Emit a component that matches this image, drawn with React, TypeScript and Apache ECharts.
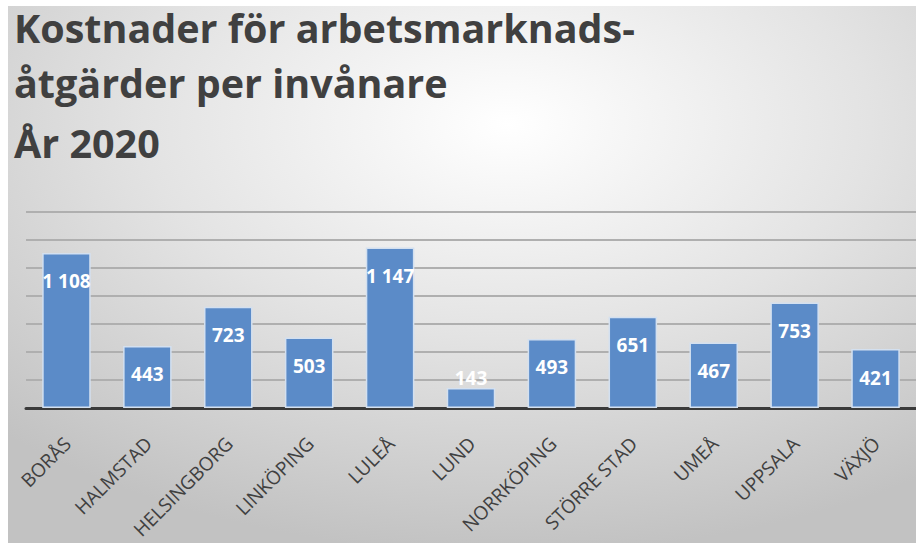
import { useEffect, useRef } from "react";
import * as echarts from "echarts";

const categories = [
  "BORÅS",
  "HALMSTAD",
  "HELSINGBORG",
  "LINKÖPING",
  "LULEÅ",
  "LUND",
  "NORRKÖPING",
  "STÖRRE STAD",
  "UMEÅ",
  "UPPSALA",
  "VÄXJÖ",
];
const values = [1108, 443, 723, 503, 1147, 143, 493, 651, 467, 753, 421];
const titleLines = ["Kostnader för arbetsmarknads-", "åtgärder per invånare", "År 2020"];
const titleY = [28, 83, 143];
const yMin = 0;
const yMax = 1400;
const yInterval = 200;

const fmt = (v: number) => String(v).replace(/\B(?=(\d{3})+(?!\d))/g, " ");

export default function App() {
  const ref = useRef<HTMLDivElement>(null);
  useEffect(() => {
    const chart = echarts.init(ref.current!, null, { renderer: "svg" });
    chart.setOption({
      animation: false,
      graphic: [
        {
          type: "rect",
          z: -10,
          silent: true,
          shape: { x: 8, y: 6, width: 908, height: 537 },
          style: {
            fill: new echarts.graphic.RadialGradient(0.55, 0.22, 0.8, [
              { offset: 0, color: "#ffffff" },
              { offset: 0.5, color: "#e3e3e3" },
              { offset: 1, color: "#c2c2c2" },
            ]),
          },
        },
        ...titleLines.map((t, i) => ({
          type: "text",
          x: 14,
          y: titleY[i],
          z: 10,
          style: {
            text: t,
            fontFamily: "Open Sans",
            fontWeight: "bold",
            fontSize: 39.5,
            fill: "#404040",
            align: "left",
            verticalAlign: "middle",
          },
        })),
      ],
      grid: { left: 26, right: -8, top: 212, bottom: 135 },
      xAxis: {
        type: "category",
        data: categories,
        axisLine: { lineStyle: { color: "#3a3a3a", width: 3 } },
        axisTick: { show: false },
        axisLabel: {
          rotate: 45,
          interval: 0,
          margin: 20,
          fontFamily: "Open Sans",
          fontSize: 19,
          color: "#404040",
          verticalAlign: "top",
          padding: [0, 8, 0, 0],
        },
      },
      yAxis: {
        type: "value",
        min: yMin,
        max: yMax,
        interval: yInterval,
        axisLabel: { show: false },
        axisLine: { show: false },
        axisTick: { show: false },
        splitLine: { lineStyle: { color: "#afafaf", width: 2 } },
      },
      series: [
        {
          type: "bar",
          data: values.map((v) =>
            v < 250 ? { value: v, label: { position: "top", distance: 0 } } : v
          ),
          barWidth: "60%",
          itemStyle: { color: "#5b8bc8", borderColor: "#d3e0f0", borderWidth: 1.5 },
          label: {
            show: true,
            position: "insideTop",
            distance: 19,
            color: "#ffffff",
            fontFamily: "Open Sans",
            fontWeight: "bold",
            fontSize: 19,
            formatter: (p: any) => fmt(p.value),
          },
        },
      ],
    });
    return () => chart.dispose();
  }, []);
  return (
    <div
      ref={ref}
      style={{ position: "fixed", left: 0, top: 0, width: 916, height: 543, background: "#ffffff" }}
    />
  );
}
